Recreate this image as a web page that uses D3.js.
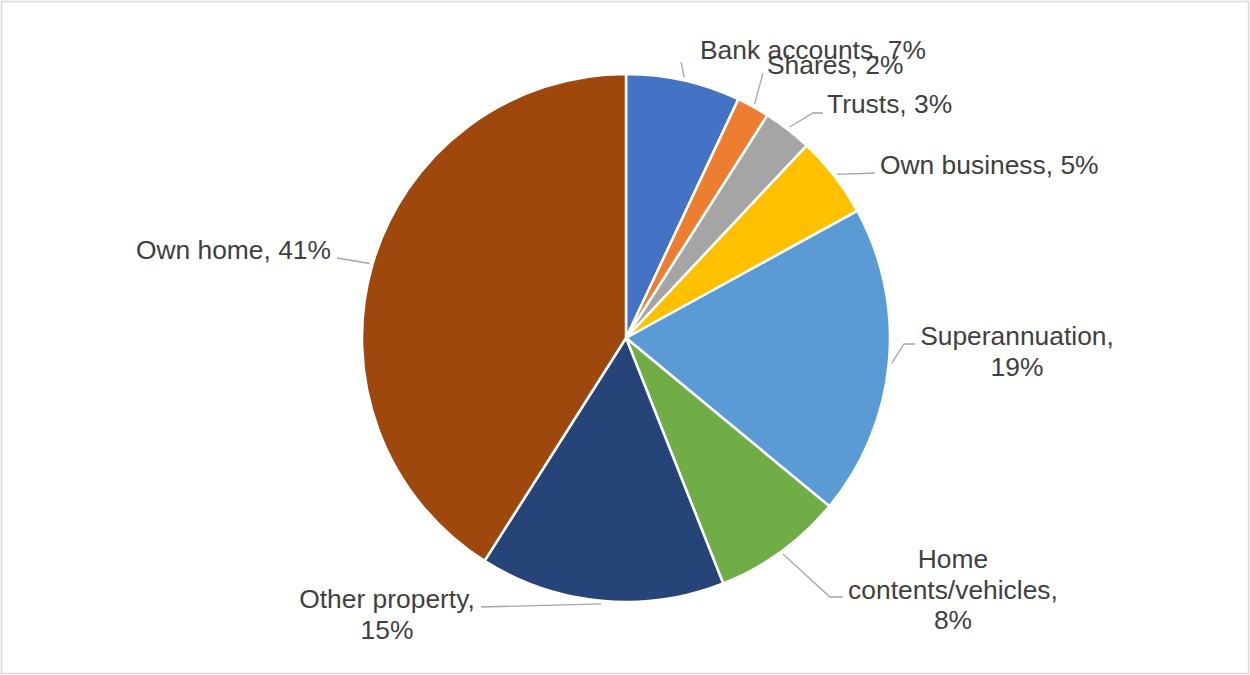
<!DOCTYPE html>
<html>
<head>
<meta charset="utf-8">
<script src="https://cdn.jsdelivr.net/npm/d3@7"></script>
<style>
  html, body { margin: 0; padding: 0; background: #fff; }
  svg { display: block; }
  text { font-family: "Liberation Sans", Arial, sans-serif; fill: #404040; }
</style>
</head>
<body>
<svg id="chart" width="1250" height="675"></svg>
<script>
// Asset categories and their share of total wealth (%)
const categories = ["Bank accounts", "Shares", "Trusts", "Own business", "Superannuation",
                    "Home contents/vehicles", "Other property", "Own home"];
const shares = [7, 2, 3, 5, 19, 8, 15, 41];
const colors = ["#4472C4", "#ED7D31", "#A5A5A5", "#FFC000", "#5B9BD5",
                "#70AD47", "#264478", "#9E480E"];

// Label text lines per slice (the last line carries the percentage)
const labelLines = [
  ["Bank accounts, {v}%"],
  ["Shares, {v}%"],
  ["Trusts, {v}%"],
  ["Own business, {v}%"],
  ["Superannuation,", "{v}%"],
  ["Home", "contents/vehicles,", "{v}%"],
  ["Other property,", "{v}%"],
  ["Own home, {v}%"]
];

// Label placement: anchor point of the first text line, alignment, and leader-line waypoints
const labelLayout = [
  { x: 700,  y: 59,  anchor: "start",  path: [[681, 62]] },
  { x: 767,  y: 74,  anchor: "start",  path: [[763, 73]] },
  { x: 827,  y: 113, anchor: "start",  path: [[813, 113], [823, 113]] },
  { x: 880,  y: 174, anchor: "start",  path: [[875, 173]] },
  { x: 1017, y: 345, anchor: "middle", path: [[904, 344], [915, 344]] },
  { x: 953,  y: 568, anchor: "middle", path: [[830, 597], [843, 597]] },
  { x: 387,  y: 608, anchor: "middle", path: [[481, 607]] },
  { x: 331,  y: 259, anchor: "end",    path: [[337, 258]] }
];

const W = 1250, H = 675;
const cx = 626, cy = 338, radius = 264;
const lineHeight = 30.5;

const svg = d3.select("#chart");

// Chart area frame
svg.append("rect")
  .attr("x", 1.5).attr("y", 1.5)
  .attr("width", W - 3).attr("height", H - 3)
  .attr("fill", "#fff")
  .attr("stroke", "#d9d9d9")
  .attr("stroke-width", 1.5);

const data = categories.map((c, i) => ({ name: c, value: shares[i], color: colors[i], i }));

const pie = d3.pie().value(d => d.value).sort(null).startAngle(0).endAngle(2 * Math.PI);
const arcs = pie(data);

const arc = d3.arc().innerRadius(0).outerRadius(radius);

const g = svg.append("g").attr("transform", `translate(${cx},${cy})`);

g.selectAll("path.slice")
  .data(arcs)
  .join("path")
  .attr("class", "slice")
  .attr("d", arc)
  .attr("fill", d => d.data.color)
  .attr("stroke", "#fff")
  .attr("stroke-width", 2.5)
  .attr("stroke-linejoin", "round");

// Leader lines: from the slice's outer edge at its mid angle to the label
const edgeArc = d3.arc().innerRadius(radius + 3).outerRadius(radius + 3);
const line = d3.line();

svg.selectAll("path.leader")
  .data(arcs)
  .join("path")
  .attr("class", "leader")
  .attr("fill", "none")
  .attr("stroke", "#a6a6a6")
  .attr("stroke-width", 1.3)
  .attr("d", d => {
    const [sx, sy] = edgeArc.centroid(d);
    const pts = [[cx + sx, cy + sy]].concat(labelLayout[d.data.i].path);
    return line(pts);
  });

// Data labels
const labels = svg.selectAll("text.label")
  .data(arcs)
  .join("text")
  .attr("class", "label")
  .attr("font-size", "26.4px")
  .attr("text-anchor", d => labelLayout[d.data.i].anchor);

labels.each(function(d) {
  const lay = labelLayout[d.data.i];
  const lines = labelLines[d.data.i];
  d3.select(this).selectAll("tspan")
    .data(lines)
    .join("tspan")
    .attr("x", lay.x)
    .attr("y", (t, k) => lay.y + k * lineHeight)
    .text(t => t.replace("{v}", d3.format("d")(d.data.value)));
});
</script>
</body>
</html>
